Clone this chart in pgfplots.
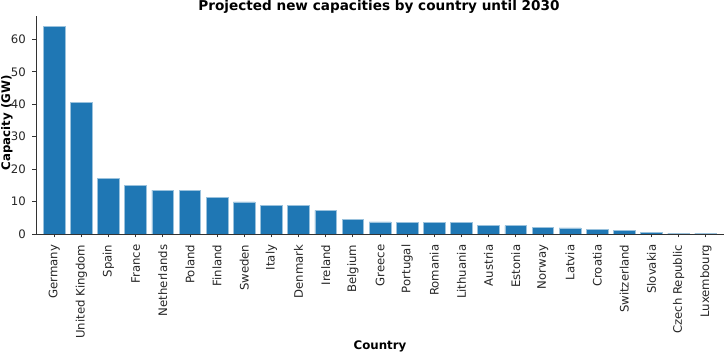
\documentclass[border=0pt]{standalone}
\usepackage{fontspec}
\setmainfont{DejaVu Sans}
\usepackage{pgfplots}
\pgfplotsset{compat=1.18}
\definecolor{barblue}{HTML}{1F77B4}
\begin{document}
\begin{tikzpicture}
\path[use as bounding box] (0,0) rectangle (724pt,352pt);
\begin{axis}[
  at={(36pt,118pt)}, anchor=south west,
  scale only axis, width=688pt, height=218pt,
  xmin=-0.67, xmax=24.67, ymin=0, ymax=67.2,
  axis x line*=bottom, axis y line*=left,
  axis line style={-, black!80, line width=0.8pt},
  tick align=outside, major tick length=3.5pt,
  tick style={black!80, line width=0.8pt},
  xtick={0,...,24},
  xticklabels={Germany,United Kingdom,Spain,France,Netherlands,Poland,Finland,Sweden,Italy,Denmark,Ireland,Belgium,Greece,Portugal,Romania,Lithuania,Austria,Estonia,Norway,Latvia,Croatia,Switzerland,Slovakia,Czech Republic,Luxembourg},
  x tick label style={rotate=90, anchor=east, inner sep=0pt, font=\fontsize{11.7}{13}\selectfont, text=black!85},
  xticklabel shift=7pt,
  ytick={0,10,...,60},
  y tick label style={anchor=east, inner sep=0pt, font=\fontsize{11.7}{13}\selectfont, text=black!85},
  yticklabel shift=6.5pt,
  /pgf/number format/assume math mode=true,
  ybar, bar width=21.7pt,
]
\addplot[fill=barblue, draw=barblue!45, line width=0.6pt] coordinates {
(0,64.0) (1,40.5) (2,17.2) (3,15.0) (4,13.5) (5,13.4) (6,11.4) (7,9.9) (8,8.9) (9,8.7) (10,7.3) (11,4.6) (12,3.7) (13,3.6) (14,3.6) (15,3.5) (16,2.6) (17,2.6) (18,2.0) (19,1.9) (20,1.4) (21,1.1) (22,0.5) (23,0.3) (24,0.3)
};
\end{axis}
\node[anchor=base, font=\bfseries\fontsize{13.6}{15}\selectfont] at (379pt,341pt) {Projected new capacities by country until 2030};
\node[anchor=base, font=\bfseries\fontsize{11.8}{14}\selectfont] at (380pt,2pt) {Country};
\node[anchor=base, rotate=90, font=\bfseries\fontsize{11.8}{14}\selectfont] at (10pt,229pt) {Capacity (GW)};
\end{tikzpicture}
\end{document}
